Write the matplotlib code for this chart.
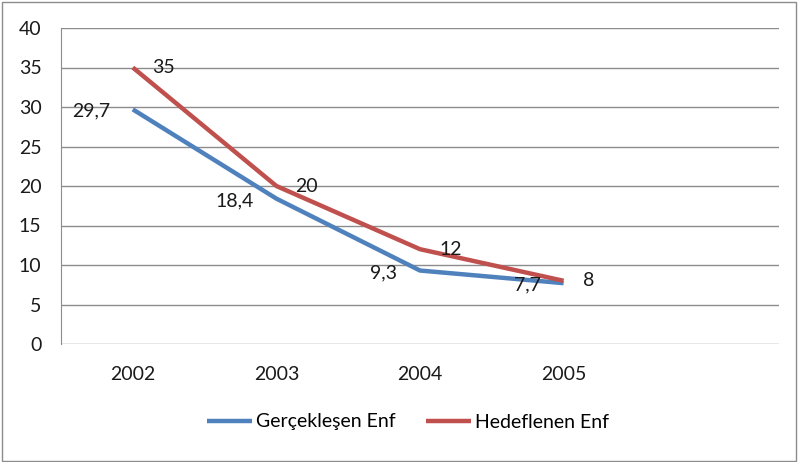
import matplotlib.pyplot as plt
from matplotlib.patches import Rectangle

years = ["2002", "2003", "2004", "2005"]
gerceklesen = [29.7, 18.4, 9.3, 7.7]
hedeflenen = [35, 20, 12, 8]
gerceklesen_labels = ["29,7", "18,4", "9,3", "7,7"]
hedeflenen_labels = ["35", "20", "12", "8"]
yticks = [0, 5, 10, 15, 20, 25, 30, 35, 40]

blue = "#4F81BD"
red = "#C0504D"
grid_col = "#8C8C8C"
fs = 14

plt.rcParams['font.family'] = ['Lato', 'DejaVu Sans']

fig = plt.figure(figsize=(7.98, 4.62), dpi=100)
ax = fig.add_axes([61 / 798, 1 - 344 / 462, 718 / 798, 316 / 462])

x = list(range(len(years)))
ax.plot(x, gerceklesen, color=blue, lw=3.2, solid_capstyle="butt", label="Gerçekleşen Enf", zorder=3)
ax.plot(x, hedeflenen, color=red, lw=3.2, solid_capstyle="butt", label="Hedeflenen Enf", zorder=3)

# data labels: actual values on the left, targets on the right
for xi, v, t in zip(x, gerceklesen, gerceklesen_labels):
    ax.annotate(t, (xi, v), xytext=(-23, -2), textcoords="offset pixels",
                ha="right", va="center", fontsize=fs, color="#1a1a1a", zorder=4)
for xi, v, t in zip(x, hedeflenen, hedeflenen_labels):
    ax.annotate(t, (xi, v), xytext=(19, 0), textcoords="offset pixels",
                ha="left", va="center", fontsize=fs, color="#1a1a1a", zorder=4)

ax.set_xlim(-0.5, 4.5)
ax.set_ylim(0, 40)
ax.set_yticks(yticks)
ax.set_xticks(x)
ax.set_xticklabels(years)
ax.yaxis.grid(True, color=grid_col, lw=1)
ax.set_axisbelow(True)
for s in ["top", "right", "bottom"]:
    ax.spines[s].set_visible(False)
ax.spines["left"].set_color(grid_col)
ax.tick_params(axis="both", length=0, labelsize=fs, colors="#1a1a1a")
ax.tick_params(axis="y", pad=14)
ax.tick_params(axis="x", pad=16)

fig.legend(loc="center", bbox_to_anchor=(408 / 798, 1 - 422 / 462), ncol=2,
           frameon=False, fontsize=fs, handlelength=2.3, handletextpad=0.2,
           columnspacing=1.6)

fig.patches.append(Rectangle((2 / 798, 1 / 462), 794 / 798, 459 / 462, transform=fig.transFigure,
                             fill=False, edgecolor="#8C8C8C", lw=1))

fig.savefig("out.png", dpi=100)
